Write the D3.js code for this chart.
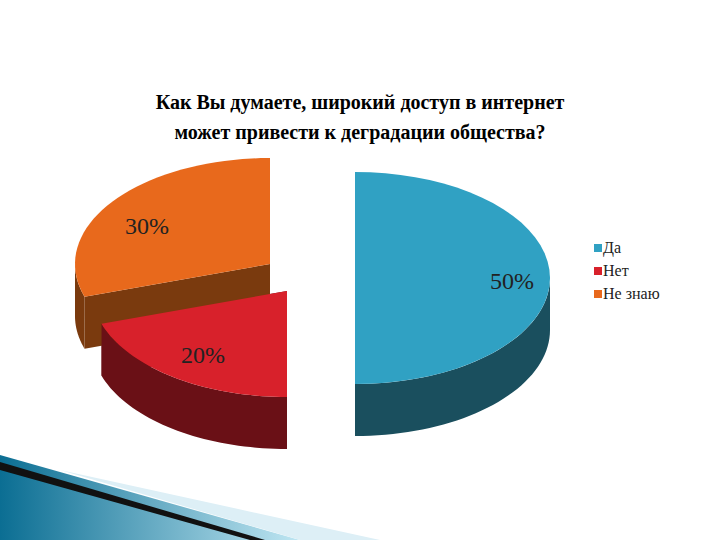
<!DOCTYPE html><html><head><meta charset="utf-8"><script src="https://cdn.jsdelivr.net/npm/d3@7"></script>
<style>body{margin:0;background:#fff}text{font-family:"Liberation Serif","Times New Roman","DejaVu Serif",serif}</style></head><body><svg width="720" height="540"></svg><script>
const categories=["Да","Нет","Не знаю"];
const values=[50,20,30];
const labels=["50%","20%","30%"];
const topColors=["#30A1C3","#D8212B","#E8691C"];
const sideColors=["#1A4F5E","#6A1016","#7A3A0E"];
const centers=[[355,278],[287,291],[270,264]];
const labelPos=[[512,283],[203,357],[147,228]];
const rx=195,ry=106,depth=52;
const svg=d3.select("svg");
const defs=svg.append("defs");
const g1=defs.append("linearGradient").attr("id","dec").attr("x1",0).attr("y1",0).attr("x2",1).attr("y2",0);
g1.append("stop").attr("offset",0).attr("stop-color","#0B6E93");g1.append("stop").attr("offset",1).attr("stop-color","#BFE6F2");
svg.append("path").attr("d","M0,455 L0,540 L300,540 Z").attr("fill","url(#dec)");
svg.append("path").attr("d","M0,462 L265,540 L250,540 L0,470 Z").attr("fill","#111");
svg.append("path").attr("d","M60,470 L380,540 L300,540 Z").attr("fill","#DDEFF6");
svg.append("text").attr("x",360).attr("y",109).attr("text-anchor","middle").attr("font-weight","bold").attr("font-size",20).text("Как Вы думаете, широкий доступ в интернет");
svg.append("text").attr("x",360).attr("y",139).attr("text-anchor","middle").attr("font-weight","bold").attr("font-size",20).text("может привести к деградации общества?");
const arcs=d3.pie().sort(null).value(d=>d)(values);
const pt=(c,a,dy=0)=>[c[0]+rx*Math.sin(a),c[1]-ry*Math.cos(a)+dy];
const line=d3.line();
const samp=(c,a0,a1,dy)=>d3.range(0,41).map(i=>pt(c,a0+(a1-a0)*i/40,dy));
arcs.forEach((a,i)=>{const c=centers[i];[a.startAngle,a.endAngle].forEach(an=>{
 const r=pt(c,an);svg.append("path").attr("d",line([c,r,[r[0],r[1]+depth],[c[0],c[1]+depth]])+"Z").attr("fill",sideColors[i]);});});
arcs.forEach((a,i)=>{const c=centers[i];const s=Math.max(a.startAngle,Math.PI/2),e=Math.min(a.endAngle,3*Math.PI/2);
 if(e>s){const p=samp(c,s,e,0).concat(samp(c,s,e,depth).reverse());svg.append("path").attr("d",line(p)+"Z").attr("fill",sideColors[i]);}});
arcs.forEach((a,i)=>{const c=centers[i];svg.append("path").attr("d",line([c].concat(samp(c,a.startAngle,a.endAngle,0)))+"Z").attr("fill",topColors[i]);});
labels.forEach((l,i)=>svg.append("text").attr("x",labelPos[i][0]).attr("y",labelPos[i][1]).attr("text-anchor","middle").attr("dominant-baseline","middle").attr("font-size",24).attr("fill","#222").text(l));
const leg=svg.append("g");
categories.forEach((c,i)=>{leg.append("rect").attr("x",594).attr("y",244+i*23).attr("width",8).attr("height",8).attr("fill",topColors[i]);
 leg.append("text").attr("x",603).attr("y",249+i*23).attr("dominant-baseline","middle").attr("font-size",16).attr("fill","#222").text(c);});
</script></body></html>
